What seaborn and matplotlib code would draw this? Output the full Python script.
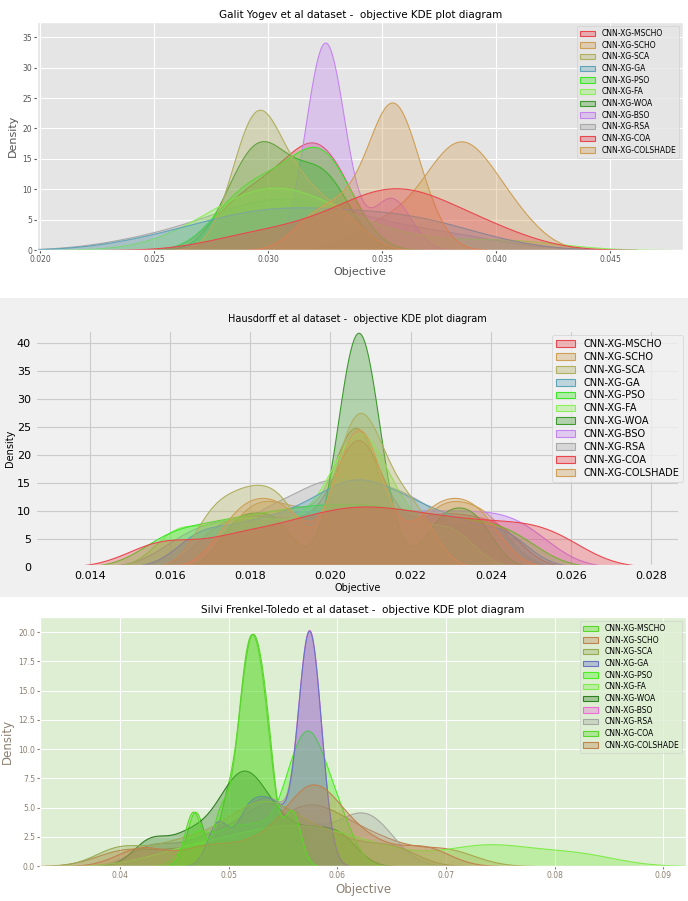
import pandas as pd
import seaborn as sns
import matplotlib.pyplot as plt
from matplotlib.patches import Rectangle

# Algorithms compared in every dataset (legend order)
algorithms = ['CNN-XG-MSCHO', 'CNN-XG-SCHO', 'CNN-XG-SCA', 'CNN-XG-GA', 'CNN-XG-PSO',
              'CNN-XG-FA', 'CNN-XG-WOA', 'CNN-XG-BSO', 'CNN-XG-RSA', 'CNN-XG-COA',
              'CNN-XG-COLSHADE']

# ---- objective values of the runs, Galit Yogev dataset ----
galit_mscho = [0.0290, 0.0315, 0.0333, 0.0345, 0.0352, 0.0356, 0.0362, 0.0370, 0.0385, 0.0400]
galit_scho = [0.0318, 0.0330, 0.0340, 0.0349, 0.0352, 0.0354, 0.0355, 0.0357, 0.0360, 0.0368]
galit_sca = [0.0287, 0.0292, 0.0294, 0.0295, 0.0297, 0.0300, 0.0308, 0.0314, 0.0322, 0.0335]
galit_ga = [0.0255, 0.0280, 0.0294, 0.0303, 0.0312, 0.0325, 0.0345, 0.0355, 0.0365, 0.0385]
galit_pso = [0.0280, 0.0289, 0.0296, 0.0303, 0.0310, 0.0317, 0.0321, 0.0324, 0.0328, 0.0334]
galit_fa = [0.0275, 0.0288, 0.0295, 0.0300, 0.0304, 0.0309, 0.0316, 0.0328, 0.0355, 0.0405]
galit_woa = [0.0283, 0.0290, 0.0294, 0.0297, 0.0301, 0.0306, 0.0315, 0.0321, 0.0326, 0.0331]
galit_bso = [0.0320, 0.0322, 0.0324, 0.0325, 0.0325, 0.0326, 0.0328, 0.0330, 0.0351, 0.0357]
galit_rsa = [0.0250, 0.0278, 0.0292, 0.0300, 0.0306, 0.0312, 0.0322, 0.0338, 0.0358, 0.0385]
galit_coa = [0.0280, 0.0290, 0.0298, 0.0305, 0.0312, 0.0317, 0.0321, 0.0324, 0.0328, 0.0335]
galit_colshade = [0.0345, 0.0362, 0.0372, 0.0378, 0.0382, 0.0385, 0.0388, 0.0393, 0.0400, 0.0410]

# ---- Hausdorff dataset ----
haus_mscho = [0.0158, 0.0176, 0.0189, 0.0199, 0.0207, 0.0215, 0.0224, 0.0234, 0.0245, 0.0256]
haus_scho = [0.0176, 0.0183, 0.0190, 0.0205, 0.0206, 0.0208, 0.0209, 0.0224, 0.0231, 0.0238]
haus_sca = [0.0170, 0.0177, 0.0183, 0.0189, 0.0203, 0.0205, 0.0208, 0.0210, 0.0215, 0.0222]
haus_ga = [0.0168, 0.0180, 0.0190, 0.0198, 0.0204, 0.0209, 0.0215, 0.0222, 0.0231, 0.0243]
haus_pso = [0.0160, 0.0172, 0.0182, 0.0191, 0.0199, 0.0207, 0.0215, 0.0224, 0.0234, 0.0245]
haus_fa = [0.0162, 0.0174, 0.0184, 0.0195, 0.0203, 0.0206, 0.0208, 0.0211, 0.0218, 0.0230]
haus_woa = [0.0177, 0.0186, 0.0204, 0.0206, 0.0207, 0.0207, 0.0208, 0.0210, 0.0228, 0.0236]
haus_bso = [0.0165, 0.0176, 0.0186, 0.0195, 0.0204, 0.0213, 0.0222, 0.0231, 0.0240, 0.0249]
haus_rsa = [0.0168, 0.0181, 0.0189, 0.0196, 0.0201, 0.0207, 0.0213, 0.0219, 0.0227, 0.0240]
haus_coa = [0.0172, 0.0182, 0.0192, 0.0204, 0.0206, 0.0208, 0.0210, 0.0223, 0.0232, 0.0242]
haus_colshade = [0.0178, 0.0185, 0.0193, 0.0204, 0.0206, 0.0207, 0.0209, 0.0225, 0.0232, 0.0240]

# ---- Silvi Frenkel-Toledo dataset ----
silvi_mscho = [0.0467, 0.0493, 0.0509, 0.0514, 0.0518, 0.0522, 0.0526, 0.0531, 0.0537, 0.0558]
silvi_scho = [0.0420, 0.0480, 0.0525, 0.0560, 0.0572, 0.0578, 0.0583, 0.0600, 0.0630, 0.0680]
silvi_sca = [0.0400, 0.0450, 0.0485, 0.0510, 0.0525, 0.0538, 0.0552, 0.0575, 0.0605, 0.0650]
silvi_ga = [0.0490, 0.0515, 0.0530, 0.0545, 0.0567, 0.0571, 0.0573, 0.0575, 0.0577, 0.0581]
silvi_pso = [0.0470, 0.0500, 0.0525, 0.0550, 0.0561, 0.0568, 0.0574, 0.0580, 0.0589, 0.0604]
silvi_fa = [0.0455, 0.0500, 0.0530, 0.0555, 0.0575, 0.0600, 0.0640, 0.0720, 0.0755, 0.0820]
silvi_woa = [0.0428, 0.0462, 0.0488, 0.0503, 0.0512, 0.0520, 0.0531, 0.0550, 0.0577, 0.0603]
silvi_bso = [0.0490, 0.0515, 0.0531, 0.0546, 0.0567, 0.0571, 0.0573, 0.0575, 0.0577, 0.0581]
silvi_rsa = [0.0430, 0.0475, 0.0505, 0.0528, 0.0540, 0.0552, 0.0580, 0.0610, 0.0625, 0.0640]
silvi_coa = [0.0469, 0.0497, 0.0510, 0.0515, 0.0519, 0.0523, 0.0527, 0.0532, 0.0538, 0.0562]
silvi_colshade = [0.0405, 0.0465, 0.0515, 0.0550, 0.0568, 0.0576, 0.0590, 0.0615, 0.0645, 0.0700]

# colours used for the algorithms
pal_red_tan = ['#e8474f', '#cf9f56', '#b0b060', '#5fa5b8', '#3ee62a', '#8cf05a',
               '#3f9a30', '#c484f0', '#a9a9a9', '#e8474f', '#cf9f56']
pal_green = ['#5ad82a', '#c0824e', '#9aab55', '#6a72c8', '#48f020', '#80ec4a',
             '#2f7f22', '#f06ad8', '#a5a8a0', '#5ad82a', '#c0824e']


def to_long(runs):
    # seaborn wants one long table: one row per run, hue = algorithm
    rows = []
    for name, vals in zip(algorithms, runs):
        for v in vals:
            rows.append({'Algorithm': name, 'Objective': v})
    return pd.DataFrame(rows)


galit_df = to_long([galit_mscho, galit_scho, galit_sca, galit_ga, galit_pso, galit_fa,
                    galit_woa, galit_bso, galit_rsa, galit_coa, galit_colshade])
haus_df = to_long([haus_mscho, haus_scho, haus_sca, haus_ga, haus_pso, haus_fa,
                   haus_woa, haus_bso, haus_rsa, haus_coa, haus_colshade])
silvi_df = to_long([silvi_mscho, silvi_scho, silvi_sca, silvi_ga, silvi_pso, silvi_fa,
                    silvi_woa, silvi_bso, silvi_rsa, silvi_coa, silvi_colshade])

fig = plt.figure(figsize=(6.88, 9.01), dpi=100)
fig.patch.set_facecolor('white')
# grey band behind the middle (fivethirtyeight) panel
fig.patches.append(Rectangle((0, 0.3374), 1, 0.3319, transform=fig.transFigure,
                             facecolor='#f0f0f0', edgecolor='none', zorder=-1))

# ---------- panel 1: Galit Yogev ----------
with plt.style.context('ggplot'):
    ax1 = fig.add_axes([0.054, 0.7225, 0.939, 0.253])
    sns.kdeplot(data=galit_df, x='Objective', hue='Algorithm', hue_order=algorithms,
                palette=pal_red_tan, fill=True, alpha=0.35, linewidth=0.8, ax=ax1)
    ax1.set_xlim(0.01987, 0.0482)
    ax1.set_ylim(0, 37.5)
    ax1.tick_params(labelsize=5.5, length=2, pad=1.5)
    ax1.set_title('Galit Yogev et al dataset -  objective KDE plot diagram', fontsize=7.5, pad=3)
    ax1.set_xlabel('Objective', fontsize=8, color='#555555', labelpad=2)
    ax1.set_ylabel('Density', fontsize=8, color='#555555', labelpad=3)
    sns.move_legend(ax1, 'upper right', title=None, fontsize=5.5, labelspacing=0.35)

# ---------- panel 2: Hausdorff ----------
with plt.style.context('fivethirtyeight'):
    ax2 = fig.add_axes([0.0509, 0.3707, 0.9375, 0.263])
    sns.kdeplot(data=haus_df, x='Objective', hue='Algorithm', hue_order=algorithms,
                palette=pal_red_tan, fill=True, alpha=0.35, linewidth=0.8, bw_adjust=0.45, ax=ax2)
    ax2.set_xlim(0.01263, 0.02872)
    ax2.set_ylim(0, 42.3)
    ax2.tick_params(labelsize=8, pad=3)
    ax2.grid(linewidth=0.8)
    ax2.set_title('Hausdorff et al dataset -  objective KDE plot diagram', fontsize=7, pad=6)
    ax2.set_xlabel('Objective', fontsize=7, labelpad=1)
    ax2.set_ylabel('Density', fontsize=7, labelpad=1)
    sns.move_legend(ax2, 'upper right', bbox_to_anchor=(1.012, 1.0), title=None,
                    fontsize=7, labelspacing=0.3)

# ---------- panel 3: Silvi Frenkel-Toledo ----------
green_rc = {'axes.facecolor': '#ddeed3', 'axes.labelcolor': '#8d8070',
            'xtick.color': '#8d8070', 'ytick.color': '#8d8070'}
with plt.style.context(['ggplot', green_rc]):
    ax3 = fig.add_axes([0.0581, 0.0388, 0.939, 0.2764])
    sns.kdeplot(data=silvi_df, x='Objective', hue='Algorithm', hue_order=algorithms,
                palette=pal_green, fill=True, alpha=0.35, linewidth=0.8, bw_adjust=0.5, ax=ax3)
    ax3.set_xlim(0.0326, 0.0921)
    ax3.set_ylim(0, 21.3)
    ax3.tick_params(labelsize=5.5, length=2, pad=1.5)
    ax3.set_title('Silvi Frenkel-Toledo et al dataset -  objective KDE plot diagram',
                  fontsize=7.5, pad=3)
    ax3.set_xlabel('Objective', fontsize=8.5, color='#8d8070', labelpad=2)
    ax3.set_ylabel('Density', fontsize=8.5, color='#8d8070', labelpad=3)
    sns.move_legend(ax3, 'upper right', title=None, fontsize=5.5, labelspacing=0.35)

fig.savefig('out.png', dpi=100)
